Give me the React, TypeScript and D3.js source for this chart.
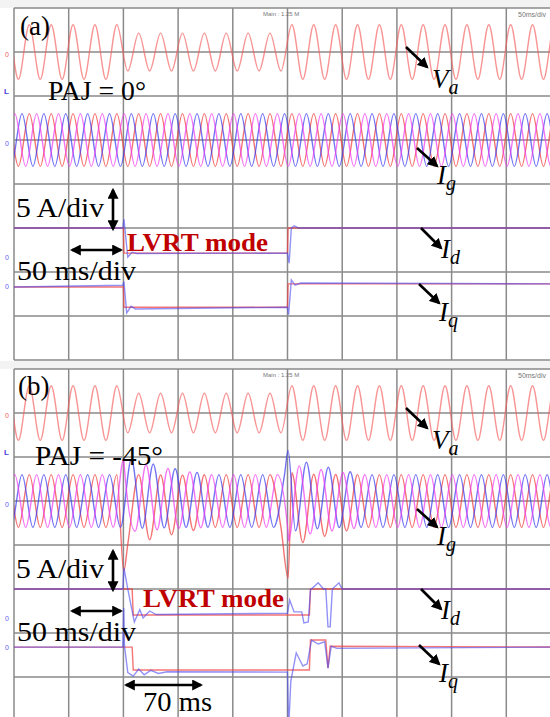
import React from "react";
import * as d3 from "d3";

const W = 550;
const H = 717;

// scope grid: 10 x 50 ms, 8 vertical divisions
const gridTimes = [0, 50, 100, 150, 200, 250, 300, 350, 400, 450, 500];
const gridLevels = [-4, -3, -2, -1, 0, 1, 2, 3, 4];

// grid voltage Va (div), step envelope split at fault start / clearance (ms)
const faultBreaks = [100, 250];
const vaAmpA = [0.62, 0.43, 0.62];
const vaAmpB = [0.62, 0.45, 0.62];
const vaPeakMs = 14;
const vaLevel = 3;

// grid currents Ig, three phases
const igColors = ["#f03c3c", "#3c3cf0", "#f03cf0"];
const igPeakMs = [14, 7.3, 20.7];
const igLevel = 1;
const igAmpA = [0.6, 0.6, 0.6];

// panel (b) current envelope / dc shift breakpoints
const igEnvTimesB = [0, 100, 101, 120, 150, 180, 250, 251, 270, 300, 320, 500];
const igEnvAmpB = [0.6, 0.6, 0.8, 0.75, 0.66, 0.6, 0.6, 0.85, 0.75, 0.65, 0.6, 0.6];
const igDcTimesB = [0, 100, 101, 140, 180, 250, 251, 300, 320, 500];
const igDcRedB = [0, 0, -0.2, -0.1, 0, 0, -0.2, -0.05, 0, 0];
const igDcBlueB = [0, 0, 0.18, 0.08, 0, 0, 0.15, 0.05, 0, 0];
const igDcMagB = [0, 0, 0.1, 0.05, 0, 0, 0, 0, 0, 0];
// spikes relative to the Ig trace level
const igSpikeRedB = [[100.3, -1.6], [250.6, -1.75]];
const igSpikeBlueB = [[250.5, 1.15]];
const igSpikeMagB = [[100.3, 0.95], [250.8, -0.9]];

// Id / Iq  [ms, div]  reference (red) and measured (blue)
const idRefA = [[0, -1], [100, -1], [100.5, -1.57], [250, -1.57], [250.5, -1], [500, -1]];
const idMeasA = [[0, -1], [99.5, -1], [100.5, -0.8], [104, -1.66], [108, -1.55], [112, -1.58], [250, -1.57],
  [251.5, -1.8], [253.5, -1.0], [256, -0.95], [260, -1.0], [500, -1]];
const iqRefA = [[0, -2.34], [100, -2.34], [100.5, -2.8], [250, -2.8], [250.5, -2.27], [500, -2.27]];
const iqMeasA = [[0, -2.34], [99.5, -2.3], [100.5, -2.22], [103, -2.93], [107, -2.78], [111, -2.84], [250, -2.8],
  [251, -2.97], [253.5, -2.18], [257, -2.3], [262, -2.25], [500, -2.27]];

const idRefB = [[0, -1], [108, -1], [109, -1.59], [270, -1.59], [271, -1], [500, -1]];
const idMeasB = [[0, -1], [99.5, -1], [100.5, -0.52], [104, -1.0], [110, -1.75], [115, -1.47], [118, -1.66],
  [124, -1.5], [130, -1.58], [250, -1.55], [252, -1.25], [256, -1.52], [263, -1.52], [265, -1.77], [269, -1.75],
  [271, -1.02], [278, -0.86], [283, -1.0], [285, -1.0], [287, -1.86], [289, -1.86], [291, -1.0], [297, -0.86],
  [300, -1.0], [500, -1]];
const iqRefB = [[0, -2.32], [108, -2.32], [109, -2.84], [270, -2.84], [271, -2.16], [285, -2.16], [287, -2.8],
  [289, -2.3], [500, -2.32]];
const iqMeasB = [[0, -2.32], [99.5, -2.32], [100.3, -1.43], [101, -2.3], [104, -2.9], [109, -2.98], [114, -2.82],
  [119, -2.95], [125, -2.85], [132, -2.92], [140, -2.88], [250, -2.89], [251, -4.2], [253, -3.1], [258, -2.45],
  [264, -2.75], [268, -2.7], [272, -2.16], [278, -2.25], [284, -2.2], [287, -2.8], [290, -2.3], [295, -2.35],
  [500, -2.32]];

const serif = "'Liberation Serif', 'Times New Roman', serif";

const x = d3.scaleLinear().domain([0, 500]).range([14, 561]);

// sine drawn through its peaks and troughs every 10 ms
function extremes(peakMs: number, amp: (t: number) => number, dc: (t: number) => number, spikes: number[][] = [], base = 0) {
  const pts: number[][] = [];
  const k0 = Math.floor((-10 - peakMs) / 10);
  for (let k = k0; peakMs + 10 * k <= 515; k++) {
    const t = peakMs + 10 * k;
    const sign = Math.abs(k) % 2 === 0 ? 1 : -1;
    pts.push([t, dc(t) + sign * amp(t)]);
  }
  const sp = spikes.map(d => [d[0], base + d[1]]);
  return pts.concat(sp).sort((a, b) => a[0] - b[0]);
}

function Arrow({ x1, y1, x2, y2, both = false }: any) {
  return (
    <line x1={x1} y1={y1} x2={x2} y2={y2} stroke="#000" strokeWidth={2.6}
      markerEnd="url(#ah)" markerStart={both ? "url(#ah)" : undefined} />
  );
}

function Panel({ top, b }: { top: number; b: boolean }) {
  const y = d3.scaleLinear().domain([-4, 4]).range([top + 352, top]);
  const sine = d3.line<number[]>().x(d => x(d[0])).y(d => y(d[1])).curve(d3.curveMonotoneX);
  const steps = d3.line<number[]>().x(d => x(d[0])).y(d => y(d[1]));
  const clipId = b ? "clipB" : "clipA";

  const vaEnv = d3.scaleThreshold<number, number>().domain(faultBreaks).range(b ? vaAmpB : vaAmpA);
  const vaPts = extremes(vaPeakMs, t => vaEnv(t), () => vaLevel);

  const igEnvA = d3.scaleThreshold<number, number>().domain(faultBreaks).range(igAmpA);
  const igEnvB = d3.scaleLinear().domain(igEnvTimesB).range(igEnvAmpB).clamp(true);
  const dcs = [igDcRedB, igDcBlueB, igDcMagB].map(v => d3.scaleLinear().domain(igDcTimesB).range(v).clamp(true));
  const spikes = [igSpikeRedB, igSpikeBlueB, igSpikeMagB];
  const igPts = igPeakMs.map((p, i) =>
    b
      ? extremes(p, t => igEnvB(t), t => igLevel + dcs[i](t), spikes[i], igLevel)
      : extremes(p, t => igEnvA(t), () => igLevel)
  );

  const idRef = b ? idRefB : idRefA;
  const idMeas = b ? idMeasB : idMeasA;
  const iqRef = b ? iqRefB : iqRefA;
  const iqMeas = b ? iqMeasB : iqMeasA;

  const trace = { fill: "none", strokeWidth: 1.4, strokeOpacity: 0.72 } as any;

  return (
    <g>
      <rect x={0} y={top - 8} width={W} height={8} fill="#f3f3f3" />
      {gridTimes.map(t => (
        <line key={"v" + t} x1={x(t)} x2={x(t)} y1={y(4)} y2={y(-4)} stroke="#8a8a8a" strokeWidth={1.5} />
      ))}
      {gridLevels.map(l => (
        <line key={"h" + l} x1={x(0)} x2={x(500)} y1={y(l)} y2={y(l)} stroke="#8a8a8a" strokeWidth={1.5} />
      ))}
      <text x={263} y={top + 8} fontSize={6} fill="#777" fontFamily="Arial, sans-serif">Main : 1.25 M</text>
      <text x={518} y={top + 9} fontSize={7} fill="#777" fontFamily="Arial, sans-serif">50ms/div</text>

      {/* channel markers */}
      <text x={5} y={y(vaLevel) + 5} fontSize={7} fill="#f06060" fontFamily="Arial">0</text>
      <text x={4} y={y(2.05)} fontSize={8} fill="#4040e0" fontWeight="bold" fontFamily="Arial">L</text>
      <text x={5} y={y(igLevel) + 6} fontSize={7} fill="#6060f0" fontFamily="Arial">0</text>
      <text x={5} y={y(-1.65) + 3} fontSize={7} fill="#6060f0" fontFamily="Arial">0</text>
      <text x={5} y={y(-2.32) + 3} fontSize={7} fill="#6060f0" fontFamily="Arial">0</text>

      <g clipPath={`url(#${clipId})`}>
        <path d={sine(vaPts) || ""} stroke="#f45a5a" {...trace} strokeOpacity={0.65} />
        {igPts.map((pts, i) => (
          <path key={i} d={sine(pts) || ""} stroke={igColors[i]} {...trace} />
        ))}
        <path d={steps(idRef) || ""} stroke="#f04040" {...trace} />
        <path d={steps(iqRef) || ""} stroke="#f04040" {...trace} />
        <path d={steps(idMeas) || ""} stroke="#4848f0" {...trace} strokeOpacity={0.6} />
        <path d={steps(iqMeas) || ""} stroke="#4848f0" {...trace} strokeOpacity={0.6} />
      </g>
    </g>
  );
}

function Labels({ top, b }: { top: number; b: boolean }) {
  const t = (v: number) => top + v;
  const fs = 27;
  const fit = { lengthAdjust: "spacingAndGlyphs" } as any;
  return (
    <g fontFamily={serif} fill="#000">
      <text x={b ? 18 : 20} y={t(b ? 26 : 27)} fontSize={fs}>{b ? "(b)" : "(a)"}</text>
      <text x={b ? 35 : 48} y={t(b ? 96 : 92)} fontSize={fs} textLength={b ? 128 : 98} {...fit}>
        {b ? "PAJ = -45°" : "PAJ = 0°"}
      </text>

      <Arrow x1={406} y1={t(39)} x2={427} y2={t(59)} />
      <text x={432} y={t(80)} fontSize={fs} fontStyle="italic">V<tspan fontSize={20} dy={6}>a</tspan></text>

      <Arrow x1={417} y1={t(140)} x2={437} y2={t(158)} />
      <text x={437} y={t(176)} fontSize={fs} fontStyle="italic">I<tspan fontSize={20} dy={6}>g</tspan></text>

      <Arrow x1={421} y1={t(220)} x2={441} y2={t(240)} />
      <text x={441} y={t(250)} fontSize={fs} fontStyle="italic">I<tspan fontSize={20} dy={6}>d</tspan></text>

      <Arrow x1={419} y1={t(276)} x2={439} y2={t(295)} />
      <text x={439} y={t(313)} fontSize={fs} fontStyle="italic">I<tspan fontSize={20} dy={6}>q</tspan></text>

      <text x={16} y={t(209)} fontSize={fs} textLength={88} {...fit}>5 A/div</text>
      <Arrow x1={113} y1={t(182)} x2={113} y2={t(221)} both />
      <Arrow x1={72} y1={t(242)} x2={121} y2={t(242)} both />
      <text x={17} y={t(272)} fontSize={fs} textLength={119} {...fit}>50 ms/div</text>
      <text x={b ? 143 : 127} y={t(b ? 238 : 243)} fontSize={25} fontWeight="bold" fill="#c00000"
        textLength={141} {...fit}>LVRT mode</text>

      {b && <Arrow x1={126} y1={t(316)} x2={201} y2={t(316)} both />}
      {b && <text x={143} y={t(342)} fontSize={fs} textLength={69} {...fit}>70 ms</text>}
    </g>
  );
}

export default function App() {
  return (
    <svg width={W} height={H} style={{ position: "absolute", left: 0, top: 0, background: "#fff" }}>
      <defs>
        <marker id="ah" viewBox="0 0 10 10" refX={8} refY={5} markerWidth={11} markerHeight={11}
          markerUnits="userSpaceOnUse" orient="auto-start-reverse">
          <path d="M0,0 L10,5 L0,10 z" fill="#000" />
        </marker>
        <clipPath id="clipA"><rect x={14} y={8} width={547} height={352} /></clipPath>
        <clipPath id="clipB"><rect x={14} y={369} width={547} height={352} /></clipPath>
      </defs>
      <rect width={W} height={H} fill="#fff" />
      <Panel top={8} b={false} />
      <Panel top={369} b={true} />
      <Labels top={8} b={false} />
      <Labels top={369} b={true} />
    </svg>
  );
}
